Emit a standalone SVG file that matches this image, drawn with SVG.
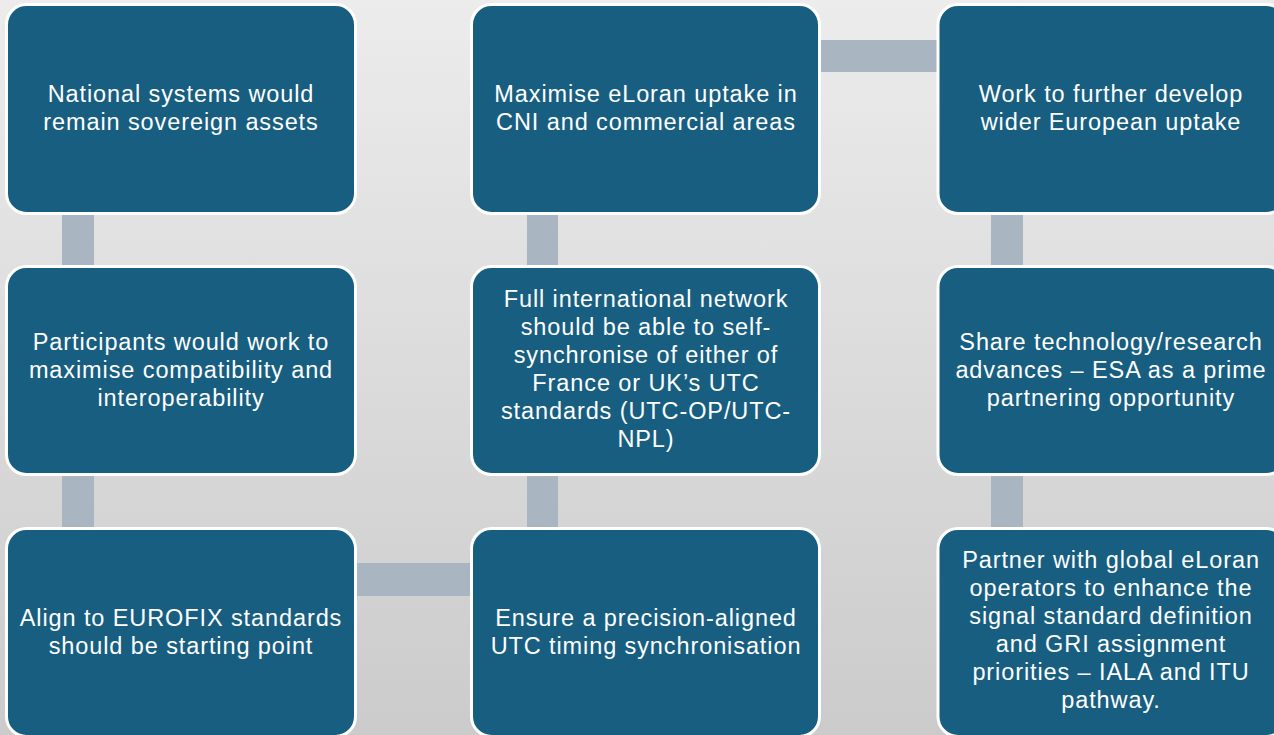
<svg xmlns="http://www.w3.org/2000/svg" width="1274" height="735" viewBox="0 0 1274 735">
<defs>
<linearGradient id="bg" x1="0" y1="0" x2="0" y2="1">
<stop offset="0" stop-color="#ececec"/>
<stop offset="1" stop-color="#cbcbcb"/>
</linearGradient>
<style>
.box{fill:#175e80;stroke:#ffffff;stroke-width:3}
.bar{fill:#a9b5c1}
.t{font-family:"Liberation Sans",Arial,sans-serif;font-size:23.5px;letter-spacing:0.9px;fill:#ffffff;text-anchor:middle}
</style>
</defs>
<rect width="1274" height="735" fill="url(#bg)"/>
<g id="connectors">
<rect class="bar" x="62" y="210" width="32" height="60"/>
<rect class="bar" x="62" y="470" width="32" height="62"/>
<rect class="bar" x="527" y="210" width="31" height="60"/>
<rect class="bar" x="527" y="470" width="31" height="62"/>
<rect class="bar" x="991" y="210" width="32" height="60"/>
<rect class="bar" x="991" y="470" width="32" height="62"/>
<rect class="bar" x="815" y="40" width="128" height="32"/>
<rect class="bar" x="350" y="563" width="126" height="33"/>
</g>
<g id="n1">
<rect class="box" x="6.5" y="4.5" width="349" height="209" rx="20"/>
<text class="t"><tspan x="181" y="102">National systems would</tspan><tspan x="181" y="130">remain sovereign assets</tspan></text>
</g>
<g id="n2">
<rect class="box" x="6.5" y="266.5" width="349" height="208" rx="20"/>
<text class="t"><tspan x="181" y="350">Participants would work to</tspan><tspan x="181" y="378">maximise compatibility and</tspan><tspan x="181" y="406">interoperability</tspan></text>
</g>
<g id="n3">
<rect class="box" x="6.5" y="528.5" width="349" height="208" rx="20"/>
<text class="t"><tspan x="181" y="626">Align to EUROFIX standards</tspan><tspan x="181" y="654">should be starting point</tspan></text>
</g>
<g id="n4">
<rect class="box" x="471.5" y="4.5" width="348" height="209" rx="20"/>
<text class="t"><tspan x="646" y="102">Maximise eLoran uptake in</tspan><tspan x="646" y="130">CNI and commercial areas</tspan></text>
</g>
<g id="n5">
<rect class="box" x="471.5" y="266.5" width="348" height="208" rx="20"/>
<text class="t"><tspan x="646" y="307">Full international network</tspan><tspan x="646" y="335">should be able to self-</tspan><tspan x="646" y="363">synchronise of either of</tspan><tspan x="646" y="391">France or UK’s UTC</tspan><tspan x="646" y="419">standards (UTC-OP/UTC-</tspan><tspan x="646" y="447">NPL)</tspan></text>
</g>
<g id="n6">
<rect class="box" x="471.5" y="528.5" width="348" height="208" rx="20"/>
<text class="t"><tspan x="646" y="626">Ensure a precision-aligned</tspan><tspan x="646" y="654">UTC timing synchronisation</tspan></text>
</g>
<g id="n7">
<rect class="box" x="938" y="4.5" width="348" height="209" rx="20"/>
<text class="t"><tspan x="1111" y="102">Work to further develop</tspan><tspan x="1111" y="130">wider European uptake</tspan></text>
</g>
<g id="n8">
<rect class="box" x="938" y="266.5" width="348" height="208" rx="20"/>
<text class="t"><tspan x="1111" y="350">Share technology/research</tspan><tspan x="1111" y="378">advances – ESA as a prime</tspan><tspan x="1111" y="406">partnering opportunity</tspan></text>
</g>
<g id="n9">
<rect class="box" x="938" y="528.5" width="348" height="208" rx="20"/>
<text class="t"><tspan x="1111" y="568">Partner with global eLoran</tspan><tspan x="1111" y="596">operators to enhance the</tspan><tspan x="1111" y="624">signal standard definition</tspan><tspan x="1111" y="652">and GRI assignment</tspan><tspan x="1111" y="680">priorities – IALA and ITU</tspan><tspan x="1111" y="708">pathway.</tspan></text>
</g>
</svg>
